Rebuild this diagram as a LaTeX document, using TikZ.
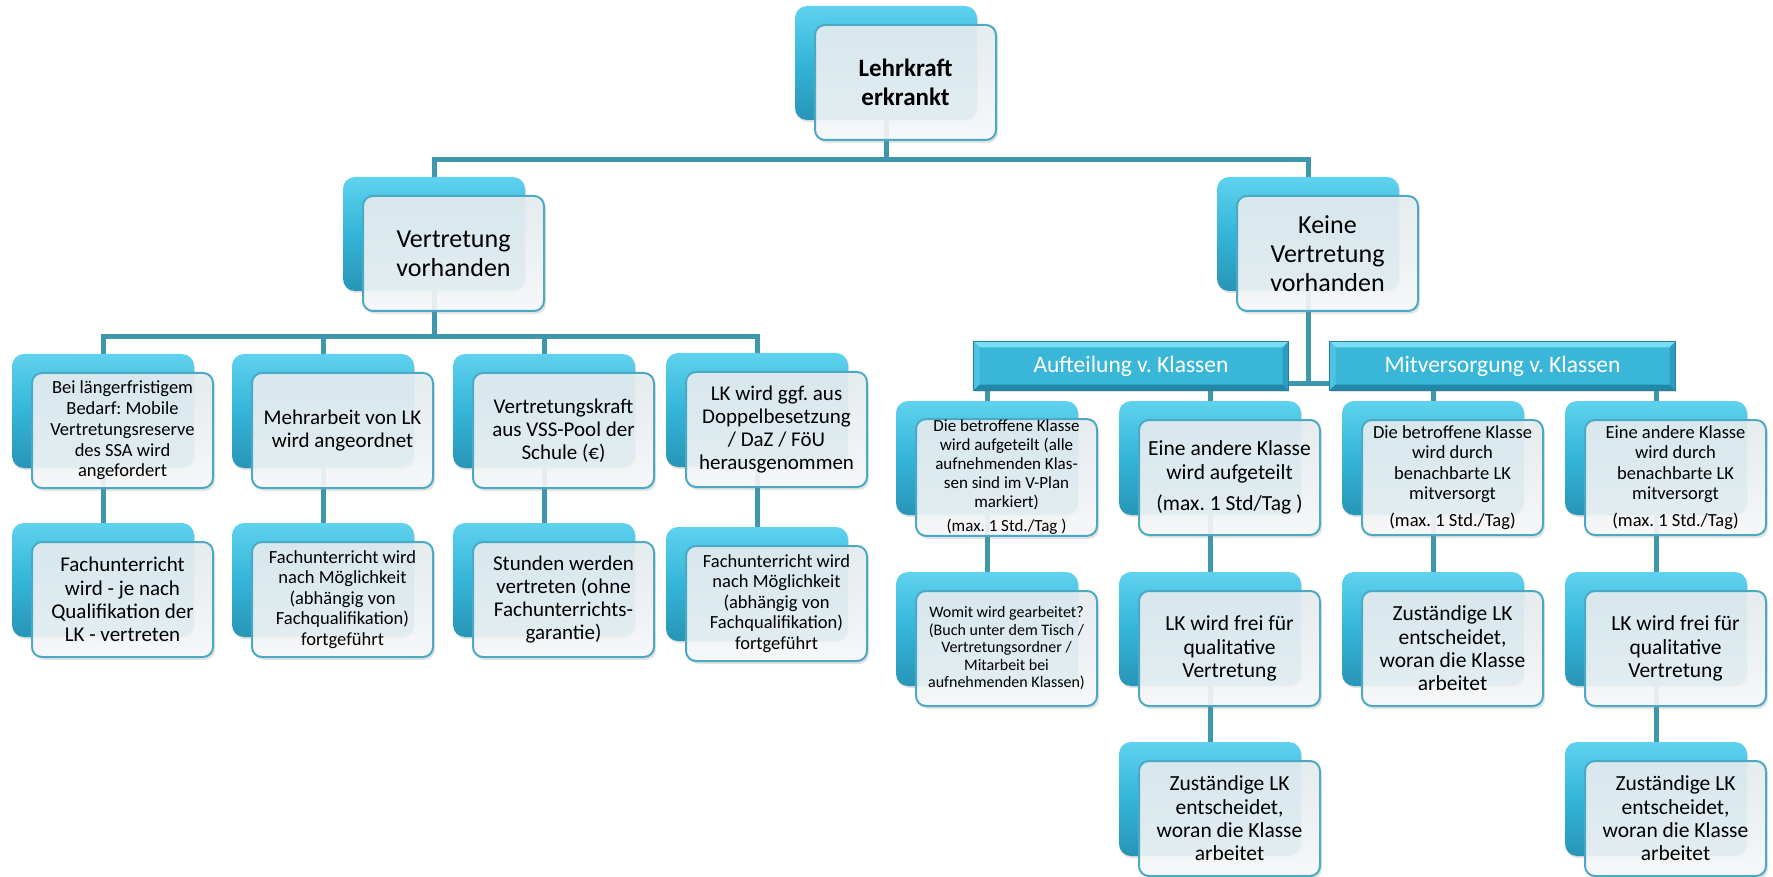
\documentclass[tikz,border=0pt]{standalone}
\usepackage{fontspec}
\setmainfont{Carlito}
\usetikzlibrary{shadows,calc}
\pgfdeclarelayer{bg}
\pgfsetlayers{bg,main}
\definecolor{bA}{HTML}{5FD2EE}
\definecolor{bB}{HTML}{34B5D9}
\definecolor{bC}{HTML}{2895B6}
\definecolor{cA}{HTML}{E6EDF0}
\definecolor{cB}{HTML}{F8F9FA}
\definecolor{cardline}{HTML}{4CA9C4}
\definecolor{connc}{HTML}{3F97AD}
\definecolor{barline}{HTML}{237F9C}
\definecolor{barface}{HTML}{3AB6D9}
\definecolor{bevtop}{HTML}{7ADDF4}
\definecolor{bevleft}{HTML}{4CC3E3}
\definecolor{bevbot}{HTML}{2387A6}
\definecolor{bevright}{HTML}{2C9DBE}
\newcommand\fsz[2]{\fontsize{#1pt}{#2pt}\selectfont}
\tikzset{
  backbox/.style={rounded corners=12pt, minimum width=182pt, minimum height=114pt, inner sep=0pt,
    top color=bA, bottom color=bC, middle color=bB, draw=none,
    drop shadow={opacity=0.25, shadow xshift=1pt, shadow yshift=-2pt}},
  frontcard/.style={rounded corners=10pt, minimum width=181pt, minimum height=115pt, inner sep=1pt,
    draw=cardline, line width=2pt, top color=cA, bottom color=cB, fill opacity=0.9, text opacity=1,
    align=center, text=black,
    drop shadow={opacity=0.22, shadow xshift=2pt, shadow yshift=-3pt}},
  barbox/.style={rectangle, minimum height=48pt, inner sep=0pt, fill=barface,
    draw=barline, line width=1pt, text=white, font=\fsz{23.5}{26},
    drop shadow={opacity=0.25, shadow xshift=1pt, shadow yshift=-2pt}},
  conn/.style={draw=connc, line width=5pt}
}
\newcommand\pair[5]{%
  \node[backbox] (#1) at (#2+91,#3+57) {};
  \node[frontcard, font=#4] (#1f) at (#2+110.5,#3+76.5) {#5};
}
\newcommand\bevel[1]{%
  \fill[bevtop] (#1.north west) -- (#1.north east) -- ($(#1.north east)+(-6,6)$) -- ($(#1.north west)+(6,6)$) -- cycle;
  \fill[bevleft] (#1.north west) -- ($(#1.north west)+(6,6)$) -- ($(#1.south west)+(6,-6)$) -- (#1.south west) -- cycle;
  \fill[bevbot] (#1.south west) -- ($(#1.south west)+(6,-6)$) -- ($(#1.south east)+(-6,-6)$) -- (#1.south east) -- cycle;
  \fill[bevright] (#1.north east) -- ($(#1.north east)+(-6,6)$) -- ($(#1.south east)+(-6,-6)$) -- (#1.south east) -- cycle;
  \draw[barline, line width=1pt] (#1.north west) rectangle (#1.south east);
}
\begin{document}
\frenchspacing
\begin{tikzpicture}[x=1pt,y=-1pt]
\useasboundingbox (0,0) rectangle (1773,877);
% top
\pair{top}{795}{6}{\bfseries\fsz{25}{29}}{Lehrkraft\\erkrankt}
% level 1
\pair{vert}{343}{177}{\fsz{26}{29}}{Vertretung\\vorhanden}
\pair{keine}{1217}{177}{\fsz{26}{29}}{Keine\\Vertretung\\vorhanden}
% left row 2
\pair{la}{12}{354}{\fsz{18.5}{20.7}}{Bei längerfristigem\\Bedarf: Mobile\\Vertretungsreserve\\des SSA wird\\angefordert}
\pair{lb}{232}{354}{\fsz{21}{23.2}}{Mehrarbeit von LK\\wird angeordnet}
\pair{lc}{453}{354}{\fsz{21}{23.2}}{Vertretungskraft\\aus VSS-Pool der\\Schule (€)}
\pair{ld}{666}{353}{\fsz{21}{23.2}}{LK wird ggf. aus\\Doppelbesetzung\\/ DaZ / FöU\\herausgenommen}
% left row 3
\pair{la2}{12}{523}{\fsz{21}{23.2}}{Fachunterricht\\wird - je nach\\Qualifikation der\\LK - vertreten}
\pair{lb2}{232}{523}{\fsz{18.5}{20.4}}{Fachunterricht wird\\nach Möglichkeit\\(abhängig von\\Fachqualifikation)\\fortgeführt}
\pair{lc2}{453}{523}{\fsz{21}{23.2}}{Stunden werden\\vertreten (ohne\\Fachunterrichts-\\garantie)}
\pair{ld2}{666}{527}{\fsz{18.5}{20.4}}{Fachunterricht wird\\nach Möglichkeit\\(abhängig von\\Fachqualifikation)\\fortgeführt}
% bars
\node[barbox, minimum width=314pt] (auf) at (1131,366) {};
\node[barbox, minimum width=345pt] (mit) at (1502.5,366) {};
\bevel{auf}
\bevel{mit}
\node[text=white, font=\fsz{23.5}{26}] (auft) at (auf.center) {Aufteilung v. Klassen};
\node[text=white, font=\fsz{23.5}{26}] (mitt) at (mit.center) {Mitversorgung v. Klassen};
% right row 3
\pair{ra}{896}{401}{\fsz{17}{18.8}}{Die betroffene Klasse\\wird aufgeteilt (alle\\aufnehmenden Klas-\\sen sind im V-Plan\\markiert)\\[6pt](max. 1 Std./Tag )}
\pair{rb}{1119}{401}{\fsz{21.5}{23.8}}{Eine andere Klasse\\wird aufgeteilt\\[8pt](max. 1 Std/Tag )}
\pair{rc}{1342}{401}{\fsz{18.5}{20.5}}{Die betroffene Klasse\\wird durch\\benachbarte LK\\mitversorgt\\[6pt](max. 1 Std./Tag)}
\pair{rd}{1565}{401}{\fsz{18.5}{20.5}}{Eine andere Klasse\\wird durch\\benachbarte LK\\mitversorgt\\[6pt](max. 1 Std./Tag)}
% right row 4
\pair{ra2}{896}{572}{\fsz{16}{17.5}}{Womit wird gearbeitet?\\(Buch unter dem Tisch /\\Vertretungsordner /\\Mitarbeit bei\\aufnehmenden Klassen)}
\pair{rb2}{1119}{572}{\fsz{21.5}{23.3}}{LK wird frei für\\qualitative\\Vertretung}
\pair{rc2}{1342}{572}{\fsz{21.5}{23.3}}{Zuständige LK\\entscheidet,\\woran die Klasse\\arbeitet}
\pair{rd2}{1565}{572}{\fsz{21.5}{23.3}}{LK wird frei für\\qualitative\\Vertretung}
% right row 5
\pair{rb3}{1119}{742}{\fsz{21.5}{23.3}}{Zuständige LK\\entscheidet,\\woran die Klasse\\arbeitet}
\pair{rd3}{1565}{742}{\fsz{21.5}{23.3}}{Zuständige LK\\entscheidet,\\woran die Klasse\\arbeitet}
% bus coordinates
\coordinate (bus1) at (0,160);
\coordinate (bus2) at (0,337);
\coordinate (bus3) at (0,383);
\begin{pgfonlayer}{bg}
\draw[conn] (top.center) -- (top.center |- bus1) -| (vert.center);
\draw[conn] (top.center |- bus1) -| (keine.center);
\draw[conn] (vert.center) -- (vert.center |- bus2) -| (la.center);
\draw[conn] (vert.center |- bus2) -| (lb.center);
\draw[conn] (vert.center |- bus2) -| (lc.center);
\draw[conn] (vert.center |- bus2) -| (ld.center);
\draw[conn] (la.center) -- (la2.center);
\draw[conn] (lb.center) -- (lb2.center);
\draw[conn] (lc.center) -- (lc2.center);
\draw[conn] (ld.center) -- (ld2.center);
\draw[conn] (keine.center) -- (keine.center |- bus3);
\draw[conn] (auf.east |- bus3) -- (mit.west |- bus3);
\draw[conn] (ra.center |- auf.center) -- (ra.center);
\draw[conn] (rb.center |- auf.center) -- (rb.center);
\draw[conn] (rc.center |- mit.center) -- (rc.center);
\draw[conn] (rd.center |- mit.center) -- (rd.center);
\draw[conn] (ra.center) -- (ra2.center);
\draw[conn] (rb.center) -- (rb2.center);
\draw[conn] (rb2.center) -- (rb3.center);
\draw[conn] (rc.center) -- (rc2.center);
\draw[conn] (rd.center) -- (rd2.center);
\draw[conn] (rd2.center) -- (rd3.center);
\end{pgfonlayer}
\end{tikzpicture}
\end{document}
